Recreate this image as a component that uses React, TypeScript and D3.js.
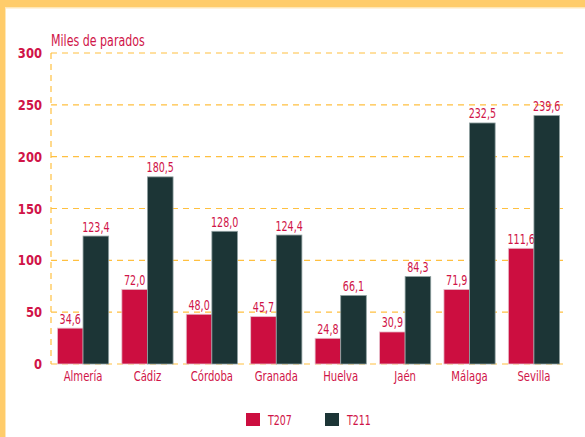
import React from "react";
import * as d3 from "d3";

const categories = ["Almería", "Cádiz", "Córdoba", "Granada", "Huelva", "Jaén", "Málaga", "Sevilla"];
const seriesNames = ["T207", "T211"];
const t207 = [34.6, 72.0, 48.0, 45.7, 24.8, 30.9, 71.9, 111.6];
const t211 = [123.4, 180.5, 128.0, 124.4, 66.1, 84.3, 232.5, 239.6];
const yTicks = [0, 50, 100, 150, 200, 250, 300];

const W = 585, H = 437;
const RED = "#CC0E40";
const DARK = "#1C3536";
const TXT = "#D01448";
const GRID = "#FFC040";
const FRAME = "#FFCC6A";
const FONT = "'DejaVu Sans Condensed', 'DejaVu Sans', sans-serif";

function ST(props: { x: number; y: number; sx: number; size: number; anchor?: string; weight?: string; children: React.ReactNode }) {
  const { x, y, sx, size, anchor, weight, children } = props;
  return (
    <g transform={`translate(${x},${y}) scale(${sx},1)`}>
      <text x={0} y={0} textAnchor={anchor || "start"} fontFamily={FONT} fontSize={size} fontWeight={weight || "normal"} fill={TXT}>
        {children}
      </text>
    </g>
  );
}

export default function App() {
  const left = 51, right = 566, top = 53, bottom = 364;
  const x = d3.scaleBand<string>().domain(categories).range([left, right]).paddingInner(0.205).paddingOuter(0.1);
  const x1 = d3.scaleBand<string>().domain(seriesNames).range([0, x.bandwidth()]).padding(0);
  const y = d3.scaleLinear().domain([0, 300]).range([bottom, top]);
  const fmt = (v: number) => v.toFixed(1).replace(".", ",");
  const series = [t207, t211];
  const colors = [RED, DARK];

  return (
    <svg width={W} height={H} style={{ position: "absolute", left: 0, top: 0, background: "#fff" }}>
      <rect x={0} y={0} width={W} height={H} fill="#fff" />
      <rect x={0} y={0} width={W} height={7.5} fill={FRAME} />
      <rect x={0} y={0} width={5} height={H} fill={FRAME} />
      <line x1={5} x2={W} y1={8} y2={8} stroke="#FFE8B8" strokeWidth={1} />
      <line x1={5.5} x2={5.5} y1={8} y2={H} stroke="#FFE8B8" strokeWidth={1} />

      {yTicks.map((t) => (
        <g key={t}>
          <line x1={left} x2={right} y1={y(t)} y2={y(t)} stroke={GRID} strokeWidth={1.2} strokeDasharray="6,5" />
          <ST x={42} y={y(t) + 5} sx={0.92} size={14} anchor="end" weight="bold">{t}</ST>
        </g>
      ))}
      <line x1={left} x2={left} y1={top} y2={bottom} stroke={GRID} strokeWidth={1.2} strokeDasharray="6,5" />

      <ST x={left} y={46} sx={0.82} size={15}>Miles de parados</ST>

      {categories.map((c, i) => (
        <g key={c}>
          {series.map((s, j) => {
            const bx = (x(c) as number) + (x1(seriesNames[j]) as number);
            const bw = x1.bandwidth();
            return (
              <g key={j}>
                <rect x={bx} y={y(s[i])} width={bw} height={bottom - y(s[i])} fill={colors[j]}
                  stroke={j === 1 ? "#8FA0A0" : "#E8C0CC"} strokeWidth={0.8} />
                <ST x={bx + bw / 2} y={y(s[i]) - 4.5} sx={0.76} size={14} anchor="middle">{fmt(s[i])}</ST>
              </g>
            );
          })}
          <ST x={(x(c) as number) + x.bandwidth() / 2} y={381} sx={0.8} size={14} anchor="middle">{c}</ST>
        </g>
      ))}

      {seriesNames.map((n, j) => (
        <g key={n}>
          <rect x={246 + j * 79} y={413} width={14} height={13} fill={colors[j]} />
          <ST x={268 + j * 79} y={425} sx={0.78} size={13.5}>{n}</ST>
        </g>
      ))}
    </svg>
  );
}
